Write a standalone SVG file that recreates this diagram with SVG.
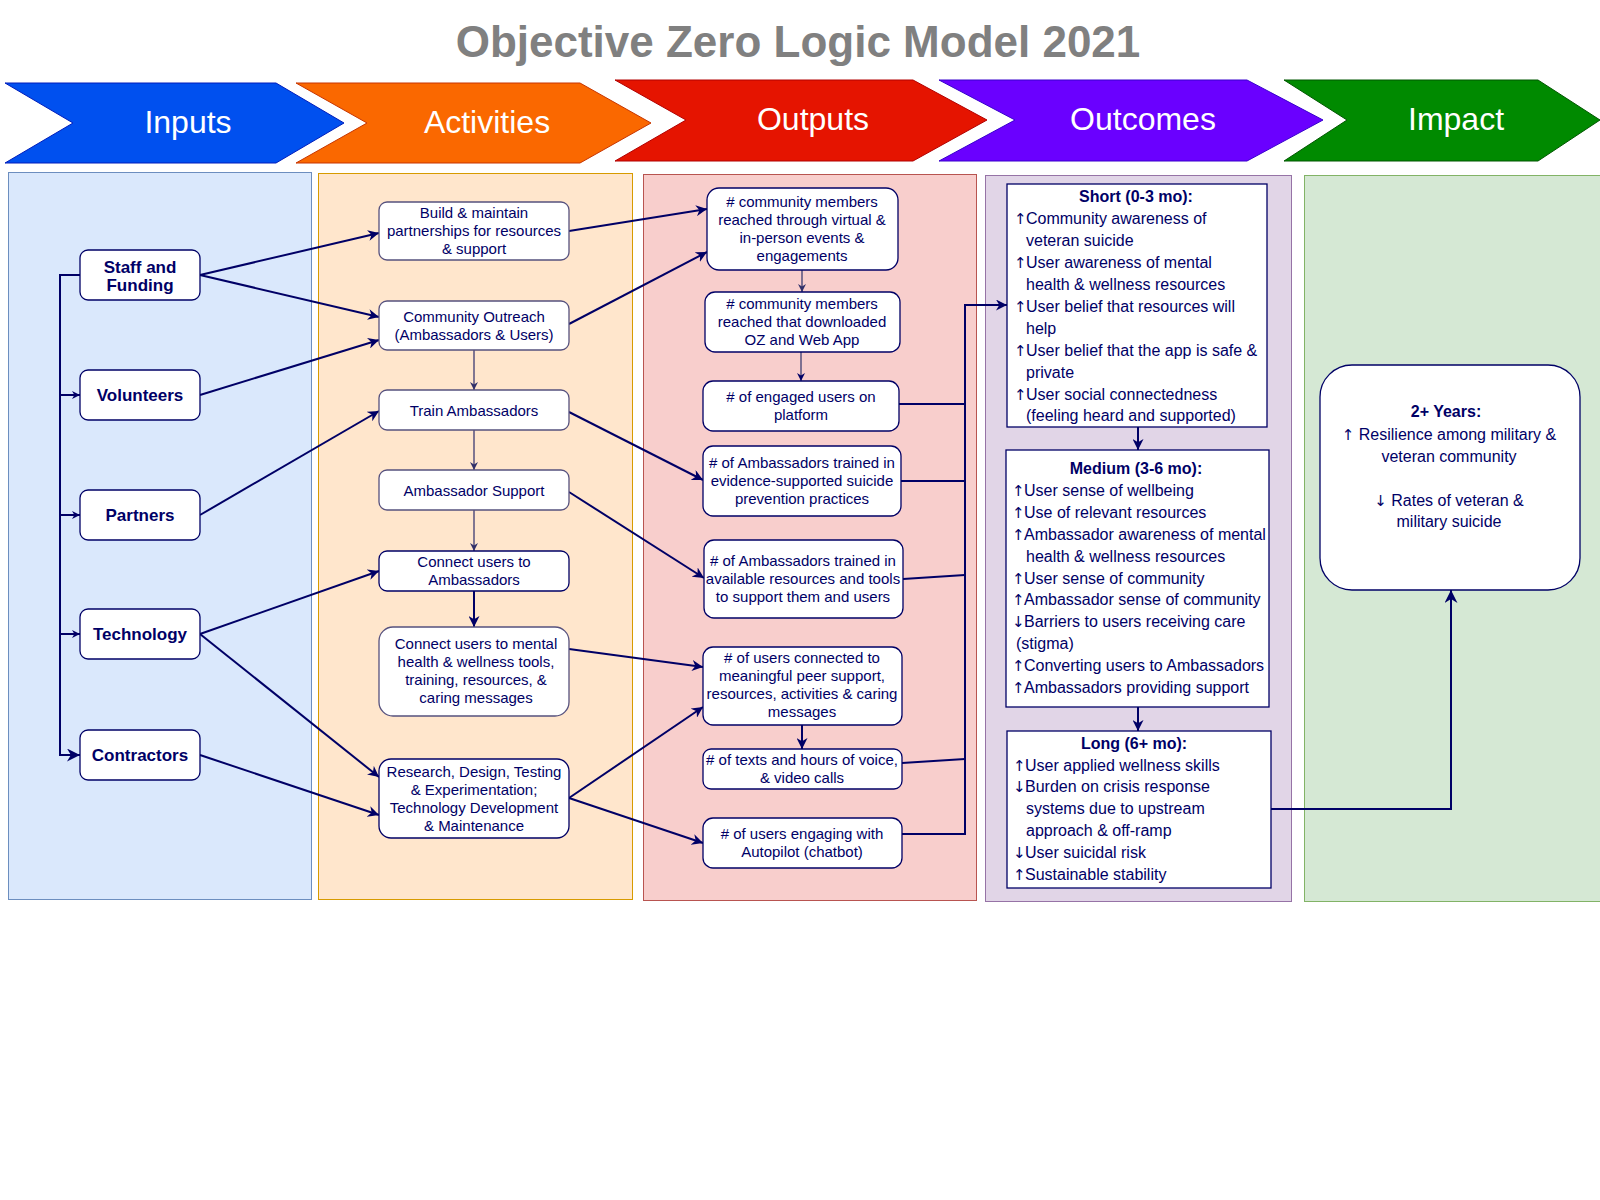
<svg xmlns="http://www.w3.org/2000/svg" width="1600" height="1200" viewBox="0 0 1600 1200">
<defs>
<style>
text{font-family:"Liberation Sans",Arial,Helvetica,sans-serif;fill:#000066}
.title{font-size:44px;font-weight:bold;fill:#808080}
.chev{font-size:32px;fill:#ffffff}
.in{font-size:17px;font-weight:bold}
.t15{font-size:15px}
.t16{font-size:16px}
.b{font-weight:bold}
.ar{font-family:"DejaVu Sans",sans-serif;font-size:15px}
.box{fill:#ffffff;stroke:#000066;stroke-width:1.3}
.abox{fill:#ffffff;stroke:#56517e;stroke-width:1.3}
.obox{fill:#ffffff;stroke:#000066;stroke-width:1.3}
.ln{fill:none;stroke:#000066;stroke-width:2}
.lnt{fill:none;stroke:#56517e;stroke-width:1.5}
</style>
<marker id="ar" viewBox="0 0 10 10" refX="10" refY="5" markerWidth="11" markerHeight="11" markerUnits="userSpaceOnUse" orient="auto"><path d="M0,0 L10,5 L0,10 L3,5 z" fill="#000066"/></marker>
<marker id="sm" viewBox="0 0 10 10" refX="10" refY="5" markerWidth="8" markerHeight="8" markerUnits="userSpaceOnUse" orient="auto"><path d="M0,0 L10,5 L0,10 L3,5 z" fill="#000066"/></marker>
<marker id="smp" viewBox="0 0 10 10" refX="10" refY="5" markerWidth="8" markerHeight="8" markerUnits="userSpaceOnUse" orient="auto"><path d="M0,0 L10,5 L0,10 L3,5 z" fill="#30306a"/></marker>
<marker id="bg" viewBox="0 0 10 10" refX="10" refY="5" markerWidth="13" markerHeight="13" markerUnits="userSpaceOnUse" orient="auto"><path d="M0,0 L10,5 L0,10 L3,5 z" fill="#000066"/></marker>
</defs>

<rect width="1600" height="1200" fill="#ffffff"/>
<text class="title" x="798" y="57" text-anchor="middle">Objective Zero Logic Model 2021</text>

<g id="headers">
<polygon points="5,83 276,83 344,123 276,163 5,163 73,123" fill="#0050ef" stroke="#001dbc" stroke-width="1"/>
<text class="chev" x="188" y="133" text-anchor="middle">Inputs</text>
<polygon points="296,83 580,83 651,123 580,163 296,163 367,123" fill="#fa6800" stroke="#c73500" stroke-width="1"/>
<text class="chev" x="487" y="133" text-anchor="middle">Activities</text>
<polygon points="615,80 913,80 987,120 913,161 615,161 686,120" fill="#e51400" stroke="#b20000" stroke-width="1"/>
<text class="chev" x="813" y="130" text-anchor="middle">Outputs</text>
<polygon points="939,80 1247,80 1323,120 1247,161 939,161 1015,120" fill="#6a00ff" stroke="#3700cc" stroke-width="1"/>
<text class="chev" x="1143" y="130" text-anchor="middle">Outcomes</text>
<polygon points="1284,80 1538,80 1600,120 1538,161 1284,161 1347,120" fill="#008a00" stroke="#005700" stroke-width="1"/>
<text class="chev" x="1456" y="130" text-anchor="middle">Impact</text>
</g>

<g id="panels">
<rect x="8.5" y="172.5" width="303" height="727" fill="#dae8fc" stroke="#6c8ebf"/>
<rect x="318.5" y="173.5" width="314" height="726" fill="#ffe6cc" stroke="#d79b00"/>
<rect x="643.5" y="174.5" width="333" height="726" fill="#f8cecc" stroke="#b85450"/>
<rect x="985.5" y="175.5" width="306" height="726" fill="#e1d5e7" stroke="#9673a6"/>
<rect x="1304.5" y="175.5" width="310" height="726" fill="#d5e8d4" stroke="#82b366"/>
</g>

<g id="connectors">
<path class="ln" d="M80,275 H60 V755 H80" marker-end="url(#bg)"/>
<path class="ln" d="M60,395 H80" marker-end="url(#sm)"/>
<path class="ln" d="M60,515 H80" marker-end="url(#sm)"/>
<path class="ln" d="M60,634 H80" marker-end="url(#sm)"/>
<path class="ln" d="M200,275 L379,233" marker-end="url(#ar)"/>
<path class="ln" d="M200,275 L379,317" marker-end="url(#ar)"/>
<path class="ln" d="M200,395 L379,340" marker-end="url(#ar)"/>
<path class="ln" d="M200,515 L379,411" marker-end="url(#ar)"/>
<path class="ln" d="M200,634 L379,571" marker-end="url(#ar)"/>
<path class="ln" d="M200,634 L379,777" marker-end="url(#ar)"/>
<path class="ln" d="M200,755 L379,815" marker-end="url(#ar)"/>
<path class="lnt" d="M474,350 V390" marker-end="url(#smp)"/>
<path class="lnt" d="M474,430 V470" marker-end="url(#smp)"/>
<path class="lnt" d="M474,510 V551" marker-end="url(#smp)"/>
<path class="ln" d="M474,591 V627" marker-end="url(#ar)"/>
<path class="ln" d="M569,231 L707,209" marker-end="url(#ar)"/>
<path class="ln" d="M569,324 L707,252" marker-end="url(#ar)"/>
<path class="ln" d="M569,412 L703,480" marker-end="url(#ar)"/>
<path class="ln" d="M569,492 L704,578" marker-end="url(#ar)"/>
<path class="ln" d="M569,649 L703,667" marker-end="url(#ar)"/>
<path class="ln" d="M569,798 L703,707" marker-end="url(#ar)"/>
<path class="ln" d="M569,798 L703,843" marker-end="url(#ar)"/>
<path class="lnt" d="M802,270 V292" marker-end="url(#smp)" stroke="#000066"/>
<path class="lnt" d="M801,352 V381" marker-end="url(#sm)" stroke="#000066"/>
<path class="ln" d="M802,725 V749" marker-end="url(#ar)"/>
<path class="ln" d="M899,404 H965"/>
<path class="ln" d="M901,481 H965"/>
<path class="ln" d="M903,579 L965,575"/>
<path class="ln" d="M902,763 L965,759"/>
<path class="ln" d="M902,834 H965 V305 H1007" marker-end="url(#ar)"/>
<path class="ln" d="M1138,427 V450" marker-end="url(#ar)"/>
<path class="ln" d="M1138,707 V731" marker-end="url(#ar)"/>
<path class="ln" d="M1271,809 H1451 V590" marker-end="url(#bg)"/>
</g>

<g id="in-staff"><rect class="box" x="80" y="250" width="120" height="50" rx="8"/>
<text class="in" x="140" y="273" text-anchor="middle">Staff and</text><text class="in" x="140" y="291" text-anchor="middle">Funding</text></g>
<g id="in-volunteers"><rect class="box" x="80" y="370" width="120" height="50" rx="8"/>
<text class="in" x="140" y="401" text-anchor="middle">Volunteers</text></g>
<g id="in-partners"><rect class="box" x="80" y="490" width="120" height="50" rx="8"/>
<text class="in" x="140" y="521" text-anchor="middle">Partners</text></g>
<g id="in-technology"><rect class="box" x="80" y="609" width="120" height="50" rx="8"/>
<text class="in" x="140" y="640" text-anchor="middle">Technology</text></g>
<g id="in-contractors"><rect class="box" x="80" y="730" width="120" height="50" rx="8"/>
<text class="in" x="140" y="761" text-anchor="middle">Contractors</text></g>

<g id="act-build"><rect class="abox" x="379" y="202" width="190" height="58" rx="8"/>
<text class="t15" text-anchor="middle"><tspan x="474" y="218">Build &amp; maintain</tspan><tspan x="474" y="236">partnerships for resources</tspan><tspan x="474" y="254">&amp; support</tspan></text></g>
<g id="act-outreach"><rect class="abox" x="379" y="301" width="190" height="49" rx="8"/>
<text class="t15" text-anchor="middle"><tspan x="474" y="322">Community Outreach</tspan><tspan x="474" y="340">(Ambassadors &amp; Users)</tspan></text></g>
<g id="act-train"><rect class="abox" x="379" y="390" width="190" height="40" rx="8"/>
<text class="t15" x="474" y="416" text-anchor="middle">Train Ambassadors</text></g>
<g id="act-support"><rect class="abox" x="379" y="470" width="190" height="40" rx="8"/>
<text class="t15" x="474" y="496" text-anchor="middle">Ambassador Support</text></g>
<g id="act-connect-amb"><rect class="box" x="379" y="551" width="190" height="40" rx="8"/>
<text class="t15" text-anchor="middle"><tspan x="474" y="567">Connect users to</tspan><tspan x="474" y="585">Ambassadors</tspan></text></g>
<g id="act-connect-mental"><rect class="abox" x="379" y="627" width="190" height="89" rx="14"/>
<text class="t15" text-anchor="middle"><tspan x="476" y="649">Connect users to mental</tspan><tspan x="476" y="667">health &amp; wellness tools,</tspan><tspan x="476" y="685">training, resources, &amp;</tspan><tspan x="476" y="703">caring messages</tspan></text></g>
<g id="act-research"><rect class="box" x="379" y="759" width="190" height="79" rx="12"/>
<text class="t15" text-anchor="middle"><tspan x="474" y="777">Research, Design, Testing</tspan><tspan x="474" y="795">&amp; Experimentation;</tspan><tspan x="474" y="813">Technology Development</tspan><tspan x="474" y="831">&amp; Maintenance</tspan></text></g>

<g id="out-reached"><rect class="obox" x="707" y="188" width="191" height="82" rx="12"/>
<text class="t15" text-anchor="middle"><tspan x="802" y="207"># community members</tspan><tspan x="802" y="225">reached through virtual &amp;</tspan><tspan x="802" y="243">in-person events &amp;</tspan><tspan x="802" y="261">engagements</tspan></text></g>
<g id="out-downloaded"><rect class="obox" x="705" y="292" width="195" height="60" rx="10" stroke="#56517e"/>
<text class="t15" text-anchor="middle"><tspan x="802" y="309"># community members</tspan><tspan x="802" y="327">reached that downloaded</tspan><tspan x="802" y="345">OZ and Web App</tspan></text></g>
<g id="out-engaged"><rect class="obox" x="703" y="381" width="196" height="50" rx="10"/>
<text class="t15" text-anchor="middle"><tspan x="801" y="402"># of engaged users on</tspan><tspan x="801" y="420">platform</tspan></text></g>
<g id="out-trained-evidence"><rect class="obox" x="703" y="446" width="198" height="70" rx="10"/>
<text class="t15" text-anchor="middle"><tspan x="802" y="468"># of Ambassadors trained in</tspan><tspan x="802" y="486">evidence-supported suicide</tspan><tspan x="802" y="504">prevention practices</tspan></text></g>
<g id="out-trained-resources"><rect class="obox" x="704" y="540" width="199" height="78" rx="10" stroke="#56517e"/>
<text class="t15" text-anchor="middle"><tspan x="803" y="566"># of Ambassadors trained in</tspan><tspan x="803" y="584">available resources and tools</tspan><tspan x="803" y="602">to support them and users</tspan></text></g>
<g id="out-connected"><rect class="obox" x="703" y="647" width="199" height="78" rx="10"/>
<text class="t15" text-anchor="middle"><tspan x="802" y="663"># of users connected to</tspan><tspan x="802" y="681">meaningful peer support,</tspan><tspan x="802" y="699">resources, activities &amp; caring</tspan><tspan x="802" y="717">messages</tspan></text></g>
<g id="out-texts"><rect class="obox" x="703" y="749" width="199" height="40" rx="8"/>
<text class="t15" text-anchor="middle"><tspan x="802" y="765"># of texts and hours of voice,</tspan><tspan x="802" y="783">&amp; video calls</tspan></text></g>
<g id="out-autopilot"><rect class="obox" x="703" y="818" width="199" height="50" rx="10"/>
<text class="t15" text-anchor="middle"><tspan x="802" y="839"># of users engaging with</tspan><tspan x="802" y="857">Autopilot (chatbot)</tspan></text></g>

<g id="oc-short"><rect class="obox" x="1007" y="184" width="260" height="243"/>
<text class="t16 b" x="1136" y="201.5" text-anchor="middle">Short (0-3 mo):</text>
<text class="t16"><tspan class="ar" x="1014" y="223.5">↑</tspan><tspan x="1026" y="223.5">Community awareness of</tspan><tspan x="1026" y="245.5">veteran suicide</tspan><tspan class="ar" x="1014" y="267.5">↑</tspan><tspan x="1026" y="267.5">User awareness of mental</tspan><tspan x="1026" y="289.5">health &amp; wellness resources</tspan><tspan class="ar" x="1014" y="311.5">↑</tspan><tspan x="1026" y="311.5">User belief that resources will</tspan><tspan x="1026" y="333.5">help</tspan><tspan class="ar" x="1014" y="355.5">↑</tspan><tspan x="1026" y="355.5">User belief that the app is safe &amp;</tspan><tspan x="1026" y="377.5">private</tspan><tspan class="ar" x="1014" y="399.5">↑</tspan><tspan x="1026" y="399.5">User social connectedness</tspan><tspan x="1026" y="421">(feeling heard and supported)</tspan></text></g>

<g id="oc-medium"><rect class="obox" x="1006" y="450" width="263" height="257"/>
<text class="t16 b" x="1136" y="474" text-anchor="middle">Medium (3-6 mo):</text>
<text class="t16"><tspan class="ar" x="1012" y="496">↑</tspan><tspan x="1024" y="496">User sense of wellbeing</tspan><tspan class="ar" x="1012" y="518">↑</tspan><tspan x="1024" y="518">Use of relevant resources</tspan><tspan class="ar" x="1012" y="540">↑</tspan><tspan x="1024" y="540">Ambassador awareness of mental</tspan><tspan x="1026" y="562">health &amp; wellness resources</tspan><tspan class="ar" x="1012" y="584">↑</tspan><tspan x="1024" y="584">User sense of community</tspan><tspan class="ar" x="1012" y="605">↑</tspan><tspan x="1024" y="605">Ambassador sense of community</tspan><tspan class="ar" x="1012" y="627">↓</tspan><tspan x="1024" y="627">Barriers to users receiving care</tspan><tspan x="1016" y="649">(stigma)</tspan><tspan class="ar" x="1012" y="671">↑</tspan><tspan x="1024" y="671">Converting users to Ambassadors</tspan><tspan class="ar" x="1012" y="693">↑</tspan><tspan x="1024" y="693">Ambassadors providing support</tspan></text></g>

<g id="oc-long"><rect class="obox" x="1007" y="731" width="264" height="157"/>
<text class="t16 b" x="1134" y="748.5" text-anchor="middle">Long (6+ mo):</text>
<text class="t16"><tspan class="ar" x="1013" y="770.5">↑</tspan><tspan x="1025" y="770.5">User applied wellness skills</tspan><tspan class="ar" x="1013" y="792">↓</tspan><tspan x="1025" y="792">Burden on crisis response</tspan><tspan x="1026" y="814">systems due to upstream</tspan><tspan x="1026" y="836">approach &amp; off-ramp</tspan><tspan class="ar" x="1013" y="858">↓</tspan><tspan x="1025" y="858">User suicidal risk</tspan><tspan class="ar" x="1013" y="880">↑</tspan><tspan x="1025" y="880">Sustainable stability</tspan></text></g>

<g id="impact"><rect class="obox" x="1320" y="365" width="260" height="225" rx="32"/>
<text class="t16 b" x="1446" y="417" text-anchor="middle">2+ Years:</text>
<text class="t16" text-anchor="middle"><tspan x="1449" y="440"><tspan class="ar">↑</tspan> Resilience among military &amp;</tspan><tspan x="1449" y="462">veteran community</tspan><tspan x="1449" y="506"><tspan class="ar">↓</tspan> Rates of veteran &amp;</tspan><tspan x="1449" y="527">military suicide</tspan></text></g>
</svg>
